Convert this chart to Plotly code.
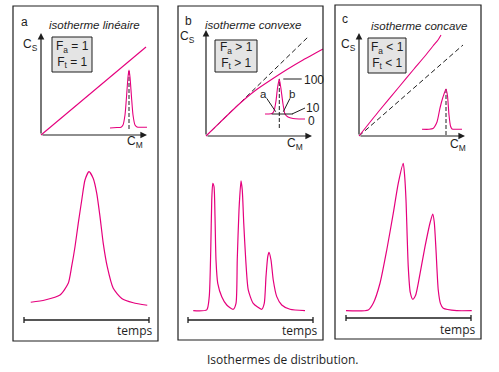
import plotly.graph_objects as go

W, H = 499, 372
PINK = "#e5007d"
INK = "#1e1e1e"
SANS = "Liberation Sans, Arial, sans-serif"
OPEN = "Open Sans, sans-serif"

# ---------------- data ----------------
# isotherms (C_M, C_S) in arbitrary units
iso_a_cm = [0.0, 1.05]
iso_a_cs = [0.0, 0.88]
ref_b_cm = [0.0, 1.02]
ref_b_cs = [0.0, 0.99]
iso_b_cm = [0.0, 0.15, 0.30, 0.40, 0.50, 0.64, 0.81, 0.97, 1.17]
iso_b_cs = [0.0, 0.146, 0.29, 0.38, 0.46, 0.555, 0.665, 0.76, 0.87]
ref_c_cm = [0.0, 1.04]
ref_c_cs = [0.0, 0.91]
iso_c_cm = [0.0, 0.20, 0.40, 0.55, 0.66, 0.74, 0.79, 0.82]
iso_c_cs = [0.0, 0.25, 0.49, 0.67, 0.80, 0.90, 0.96, 1.01]

# small inset peaks drawn inside the isotherm frames
mini_a_x = [0.69, 0.76, 0.80, 0.82, 0.84, 0.855, 0.87, 0.88, 0.89, 0.905, 0.92, 0.94, 0.96, 1.0, 1.06]
mini_a_y = [0.07, 0.075, 0.078, 0.10, 0.20, 0.38, 0.58, 0.65, 0.58, 0.38, 0.20, 0.10, 0.08, 0.077, 0.077]
mini_a_apex = (0.88, 0.65)
mini_b_x = [0.59, 0.63, 0.66, 0.68, 0.70, 0.715, 0.733, 0.75, 0.77, 0.79, 0.82, 0.87, 0.93, 0.99]
mini_b_y = [0.22, 0.22, 0.225, 0.25, 0.35, 0.48, 0.57, 0.47, 0.32, 0.22, 0.19, 0.175, 0.17, 0.17]
mini_b_apex = (0.733, 0.57)
mini_c_x = [0.63, 0.70, 0.74, 0.78, 0.81, 0.84, 0.87, 0.885, 0.90, 0.915, 0.93, 0.97, 1.03]
mini_c_y = [0.067, 0.067, 0.075, 0.14, 0.28, 0.39, 0.47, 0.40, 0.21, 0.10, 0.07, 0.067, 0.067]
mini_c_apex = (0.87, 0.47)

# chromatograms (time 0-100, signal 0-100)
chrom_a_t = [5.4, 16.8, 28.8, 35.4, 38.1, 40.8, 43.4, 46.2, 48.8, 52.0, 55.4, 58.2, 60.8,
             63.4, 66.6, 71.4, 78.2, 87.4, 98.6]
chrom_a_s = [11.1, 12.5, 15.6, 22.9, 33.3, 45.8, 60.4, 75.0, 87.5, 92.7, 88.5, 79.2, 64.6,
             47.9, 33.3, 19.8, 13.5, 10.8, 9.2]
chrom_b_t = [4.2, 15.0, 17.0, 18.2, 19.0, 19.8, 20.8, 21.6, 22.4, 23.8, 27.0, 31.0, 36.2,
             38.4, 39.4, 40.8, 42.4, 43.4, 44.6, 46.2, 48.2, 52.2, 59.0,
             61.0, 62.4, 63.8, 64.8, 66.4, 68.2, 71.0, 75.0, 81.6, 93.6]
chrom_b_s = [5.8, 6.3, 14.6, 43.8, 75.0, 85.4, 83.3, 64.6, 37.5, 22.9, 14.6, 9.4, 6.7,
             10.4, 37.5, 68.8, 86.9, 81.3, 60.4, 37.5, 18.8, 10.4, 6.7,
             10.4, 27.1, 39.6, 42.3, 37.5, 25.0, 14.6, 9.4, 6.7, 5.8]
chrom_c_t = [0.0, 17.8, 21.8, 27.2, 32.6, 37.8, 41.8, 45.8, 47.0, 48.0, 49.8, 51.4, 53.4,
             55.6, 57.8, 63.2, 67.4, 69.4, 70.6, 72.0, 73.8, 75.6, 77.8, 88.6, 100.6]
chrom_c_s = [4.6, 5.0, 9.2, 21.7, 42.5, 65.4, 84.2, 96.7, 88.0, 73.8, 32.1, 16.0, 11.7,
             14.0, 21.7, 44.6, 60.0, 65.0, 60.0, 42.5, 17.5, 9.0, 6.1, 4.6, 4.6]

# ---------------- helpers (layout positions in pixels) ----------------
def PX(x):
    return x / W

def PY(y):
    return 1 - y / H

fig = go.Figure()

U = 100.0  # pixels per isotherm unit

def iso_axes(n, ox, oy):
    x0, x1 = ox - 5, ox + 122
    y0, y1 = oy + 5, oy - 112
    fig.layout[f"xaxis{n if n > 1 else ''}"] = dict(
        domain=[PX(x0), PX(x1)], range=[(x0 - ox) / U, (x1 - ox) / U],
        visible=False, fixedrange=True, anchor=f"y{n if n > 1 else ''}")
    fig.layout[f"yaxis{n if n > 1 else ''}"] = dict(
        domain=[PY(y0), PY(y1)], range=[(oy - y0) / U, (oy - y1) / U],
        visible=False, fixedrange=True, anchor=f"x{n if n > 1 else ''}")

def chrom_axes(n, bx0, bx1, by):
    sx = (bx1 - bx0) / 100.0
    x0, x1 = bx0 - 8, bx1 + 8
    y0, y1 = by, by - 170
    fig.layout[f"xaxis{n}"] = dict(domain=[PX(x0), PX(x1)],
                                   range=[(x0 - bx0) / sx, (x1 - bx0) / sx],
                                   visible=False, fixedrange=True, anchor=f"y{n}")
    fig.layout[f"yaxis{n}"] = dict(domain=[PY(y0), PY(y1)], range=[0, 170 / 1.6],
                                   visible=False, fixedrange=True, anchor=f"x{n}")

iso_axes(1, 41, 135)
iso_axes(2, 206, 136)
iso_axes(3, 359, 136)
chrom_axes(4, 24, 149, 320)
chrom_axes(5, 188, 313, 320)
chrom_axes(6, 346, 471, 318)

def line(x, y, ax, color=PINK, width=1.2, dash=None, smooth=True):
    xa = "x" if ax == 1 else f"x{ax}"
    ya = "y" if ax == 1 else f"y{ax}"
    fig.add_trace(go.Scatter(
        x=x, y=y, xaxis=xa, yaxis=ya, mode="lines", hoverinfo="skip",
        line=dict(color=color, width=width, dash=dash,
                  shape="spline" if smooth else "linear", smoothing=0.6)))

# isotherms
line(iso_a_cm, iso_a_cs, 1, width=1.1, smooth=False)
line(ref_b_cm, ref_b_cs, 2, color=INK, width=1, dash="5px,3px", smooth=False)
line(iso_b_cm, iso_b_cs, 2, width=1.1)
line(ref_c_cm, ref_c_cs, 3, color=INK, width=1, dash="5px,3px", smooth=False)
line(iso_c_cm, iso_c_cs, 3, width=1.1)

# inset peaks + apex markers
for n, mx, my, apex, base in [(1, mini_a_x, mini_a_y, mini_a_apex, 0.06),
                              (2, mini_b_x, mini_b_y, mini_b_apex, 0.08),
                              (3, mini_c_x, mini_c_y, mini_c_apex, 0.01)]:
    line([apex[0], apex[0]], [base, apex[1]], n, color=INK, width=1, dash="4px,2px", smooth=False)
    line(mx, my, n, width=1.1)

# chromatograms
line(chrom_a_t, chrom_a_s, 4, width=1.2)
line(chrom_b_t, chrom_b_s, 5, width=1.2)
line(chrom_c_t, chrom_c_s, 6, width=1.2)

shapes = []
# panel frames
for (x0, y0, x1, y1) in [(13, 6, 158, 341), (178, 6, 323, 340), (335, 5, 481, 339)]:
    shapes.append(dict(type="rect", xref="paper", yref="paper", x0=PX(x0), x1=PX(x1),
                       y0=PY(y1), y1=PY(y0), line=dict(color=INK, width=1.2)))
# F boxes
for (x0, y0, x1, y1) in [(52, 37, 92, 72), (215, 40, 257, 72), (368, 38, 406, 73)]:
    shapes.append(dict(type="rect", xref="paper", yref="paper", x0=PX(x0), x1=PX(x1),
                       y0=PY(y1), y1=PY(y0), fillcolor="#e4e4e4",
                       line=dict(color=INK, width=1), layer="below"))
# time bars
for n, by in [(4, 320), (5, 320), (6, 318)]:
    shapes.append(dict(type="line", xref=f"x{n}", yref="paper", x0=0, x1=100,
                       y0=PY(by), y1=PY(by), line=dict(color=INK, width=1.3)))
    for t in (0, 100):
        shapes.append(dict(type="line", xref=f"x{n}", yref="paper", x0=t, x1=t,
                           y0=PY(by - 3), y1=PY(by + 3), line=dict(color=INK, width=1.3)))
# inset b: 10 % bar and leaders
for (a0, b0, a1, b1) in [(0.657, 0.22, 0.867, 0.22),
                         (0.773, 0.57, 0.957, 0.57),
                         (0.86, 0.22, 0.99, 0.28),
                         (0.607, 0.377, 0.697, 0.243),
                         (0.84, 0.377, 0.773, 0.243)]:
    shapes.append(dict(type="line", xref="x2", yref="y2", x0=a0, x1=a1, y0=b0, y1=b1,
                       line=dict(color=INK, width=1)))

ann = []
def txt(x, y, s, size=12, fam=SANS, xa="center", color=INK):
    ann.append(dict(x=PX(x), y=PY(y), xref="paper", yref="paper", text=s, showarrow=False,
                    xanchor=xa, yanchor="middle", font=dict(family=fam, size=size, color=color)))

def arrow(hx, hy, tx, ty):
    ann.append(dict(x=PX(hx), y=PY(hy), xref="paper", yref="paper", text="",
                    showarrow=True, ax=tx - hx, ay=ty - hy, axref="pixel", ayref="pixel",
                    arrowhead=2, arrowsize=1.1, arrowwidth=1.2, arrowcolor=INK,
                    standoff=0, startstandoff=0))

# axes arrows
arrow(41, 33, 41, 135); arrow(147, 135, 41, 135)
arrow(206, 30, 206, 136); arrow(312, 136, 206, 136)
arrow(359, 33, 359, 136); arrow(465, 136, 359, 136)

# panel letters and titles
txt(24, 22, "a", 12)
txt(188, 21, "b", 12)
txt(345, 19, "c", 12)
txt(94, 25, "<i>isotherme linéaire</i>", 11.5)
txt(254, 25, "<i>isotherme convexe</i>", 11.5)
txt(419, 26, "<i>isotherme concave</i>", 11.5)

# axis titles
for x, y in [(30, 45), (187, 37), (348, 45)]:
    txt(x, y, "C<sub>S</sub>", 12)
for x, y in [(135, 142), (295, 144), (458, 145)]:
    txt(x, y, "C<sub>M</sub>", 12)

# F boxes text
txt(72, 54.5, "F<sub>a</sub> = 1<br>F<sub>t</sub> = 1", 12)
txt(236, 56, "F<sub>a</sub> > 1<br>F<sub>t</sub> > 1", 12)
txt(387, 55.5, "F<sub>a</sub> < 1<br>F<sub>t</sub> < 1", 12)

# inset b labels
txt(302, 80, "100", 12, xa="left")
txt(304, 108, "10", 12, xa="left")
txt(306, 121, "0", 12, xa="left")
txt(263.5, 94, "a", 11.5)
txt(291.5, 94, "b", 11.5)

# time labels + caption
txt(134.5, 330, "temps", 12, fam=OPEN)
txt(299, 330, "temps", 12, fam=OPEN)
txt(457, 329, "temps", 12, fam=OPEN)
txt(283, 359, "Isothermes de distribution.", 12, fam=OPEN)

fig.update_layout(width=W, height=H, margin=dict(l=0, r=0, t=0, b=0),
                  paper_bgcolor="white", plot_bgcolor="rgba(0,0,0,0)",
                  showlegend=False, shapes=shapes, annotations=ann)
fig.write_html("out.html", config={"displayModeBar": False},
               post_script="document.body.style.margin='0';document.body.style.overflow='hidden';")
